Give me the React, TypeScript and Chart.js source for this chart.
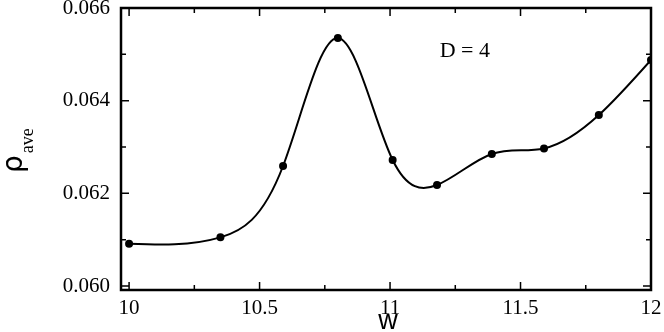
import React, { useEffect, useRef } from 'react';
import { Chart, registerables } from 'chart.js';

Chart.register(...registerables);

const wValues = [10, 10.35, 10.59, 10.8, 11.01, 11.18, 11.39, 11.59, 11.8, 12];
const rhoValues = [0.06091, 0.06105, 0.06259, 0.06535, 0.06272, 0.06218, 0.06285, 0.06297, 0.06369, 0.06488];

const xMajorTicks = [10, 10.5, 11, 11.5, 12];
const xMinorTicks = [10.25, 10.75, 11.25, 11.75];
const xTickLabels = ['10', '10.5', '11', '11.5', '12'];
const yMajorTicks = [0.06, 0.062, 0.064, 0.066];
const yMinorTicks = [0.061, 0.063, 0.065];
const yTickLabels = ['0.060', '0.062', '0.064', '0.066'];

const xRange = [9.969, 12.0];
const yRange = [0.059914, 0.066];

const annotationText = 'D = 4';
const annotationPos = [11.19, 0.06494];
const xTitle = 'w';
const yTitleMain = 'ρ';
const yTitleSub = 'ave';

// Replace the line's bezier control points with those of a natural cubic spline
// through the (scaled) data points, so Chart.js draws a smooth spline curve.
const splinePlugin = {
  id: 'naturalSpline',
  beforeDatasetsDraw(chart: any) {
    chart.data.datasets.forEach((_d: any, di: number) => {
      const meta = chart.getDatasetMeta(di);
      const line = meta.dataset;
      const pts = meta.data;
      if (!line || pts.length < 3) return;
      line.updateControlPoints(chart.chartArea, 'x');
      const n = pts.length;
      const xs = pts.map((p: any) => p.x);
      const ys = pts.map((p: any) => p.y);
      const h: number[] = [];
      for (let i = 0; i < n - 1; i++) h.push(xs[i + 1] - xs[i]);
      const a = new Array(n).fill(0);
      const b = new Array(n).fill(0);
      const c = new Array(n).fill(0);
      const r = new Array(n).fill(0);
      b[0] = 1;
      b[n - 1] = 1;
      for (let i = 1; i < n - 1; i++) {
        a[i] = h[i - 1];
        b[i] = 2 * (h[i - 1] + h[i]);
        c[i] = h[i];
        r[i] = 6 * ((ys[i + 1] - ys[i]) / h[i] - (ys[i] - ys[i - 1]) / h[i - 1]);
      }
      for (let i = 1; i < n; i++) {
        const m = a[i] / b[i - 1];
        b[i] -= m * c[i - 1];
        r[i] -= m * r[i - 1];
      }
      const M = new Array(n).fill(0);
      M[n - 1] = r[n - 1] / b[n - 1];
      for (let i = n - 2; i >= 0; i--) M[i] = (r[i] - c[i] * M[i + 1]) / b[i];
      const slope = (i: number) => {
        if (i < n - 1) {
          return (ys[i + 1] - ys[i]) / h[i] - (h[i] * (2 * M[i] + M[i + 1])) / 6;
        }
        return (ys[i] - ys[i - 1]) / h[i - 1] + (h[i - 1] * (M[i - 1] + 2 * M[i])) / 6;
      };
      for (let i = 0; i < n; i++) {
        const p = pts[i];
        const s = slope(i);
        if (i > 0) {
          p.cp1x = xs[i] - h[i - 1] / 3;
          p.cp1y = ys[i] - (s * h[i - 1]) / 3;
        }
        if (i < n - 1) {
          p.cp2x = xs[i] + h[i] / 3;
          p.cp2y = ys[i] + (s * h[i]) / 3;
        }
      }
    });
  },
};

const framePlugin = {
  id: 'frameTicks',
  afterDatasetsDraw(chart: any) {
    const { ctx, chartArea: a, scales } = chart;
    const x = scales.x;
    const y = scales.y;
    ctx.save();
    ctx.strokeStyle = '#000';
    ctx.lineWidth = 1.5;
    const major = 8;
    const minor = 5;
    const vt = (v: number, len: number) => {
      const px = x.getPixelForValue(v);
      ctx.beginPath();
      ctx.moveTo(px, a.bottom);
      ctx.lineTo(px, a.bottom - len);
      ctx.moveTo(px, a.top);
      ctx.lineTo(px, a.top + len);
      ctx.stroke();
    };
    const ht = (v: number, len: number) => {
      const py = y.getPixelForValue(v);
      ctx.beginPath();
      ctx.moveTo(a.left, py);
      ctx.lineTo(a.left + len, py);
      ctx.moveTo(a.right, py);
      ctx.lineTo(a.right - len, py);
      ctx.stroke();
    };
    xMajorTicks.forEach((v) => vt(v, major));
    xMinorTicks.forEach((v) => vt(v, minor));
    yMajorTicks.forEach((v) => ht(v, major));
    yMinorTicks.forEach((v) => ht(v, minor));
    ctx.lineWidth = 2.5;
    ctx.strokeRect(a.left, a.top, a.right - a.left, a.bottom - a.top);

    ctx.fillStyle = '#000';
    ctx.font = '22px "Liberation Serif"';
    ctx.textAlign = 'left';
    ctx.textBaseline = 'alphabetic';
    ctx.fillText(annotationText, x.getPixelForValue(annotationPos[0]), y.getPixelForValue(annotationPos[1]));

    ctx.font = '27px "Liberation Sans"';
    ctx.textAlign = 'center';
    ctx.fillText(xTitle, (a.left + a.right) / 2 + 2, 329);

    ctx.save();
    ctx.translate(22, 173);
    ctx.rotate(-Math.PI / 2);
    ctx.textAlign = 'left';
    ctx.font = '28px "DejaVu Sans"';
    ctx.fillText(yTitleMain, 0, 0);
    const w = ctx.measureText(yTitleMain).width;
    ctx.font = '18px "Liberation Serif"';
    ctx.fillText(yTitleSub, w + 2, 11);
    ctx.restore();

    ctx.restore();
  },
};

export default function App() {
  const ref = useRef<HTMLCanvasElement>(null);
  useEffect(() => {
    document.body.style.margin = '0';
    const chart = new Chart(ref.current!, {
      type: 'line',
      data: {
        datasets: [
          {
            data: wValues.map((w, i) => ({ x: w, y: rhoValues[i] })),
            borderColor: '#000',
            backgroundColor: '#000',
            borderWidth: 2,
            pointRadius: 4,
            pointBackgroundColor: '#000',
            pointBorderWidth: 0,
            tension: 0.4,
            fill: false,
          },
        ],
      },
      options: {
        animation: false,
        responsive: true,
        maintainAspectRatio: false,
        layout: { padding: { top: 8, right: 13, left: 0, bottom: 0 } },
        plugins: { legend: { display: false }, tooltip: { enabled: false } },
        scales: {
          x: {
            type: 'linear',
            min: xRange[0],
            max: xRange[1],
            grid: { display: false, drawTicks: false },
            border: { display: false },
            afterBuildTicks: (s: any) => {
              s.ticks = xMajorTicks.map((v) => ({ value: v }));
            },
            afterFit: (s: any) => {
              s.height = 42;
              s.paddingLeft = 0;
              s.paddingRight = 0;
            },
            ticks: {
              padding: 6,
              color: '#000',
              maxRotation: 0,
              autoSkip: false,
              font: { family: '"Liberation Serif"', size: 21 },
              callback: (v: any) => {
                const i = xMajorTicks.findIndex((t) => Math.abs(t - v) < 1e-9);
                return i >= 0 ? xTickLabels[i] : '';
              },
            },
          },
          y: {
            type: 'linear',
            min: yRange[0],
            max: yRange[1],
            grid: { display: false, drawTicks: false },
            border: { display: false },
            afterBuildTicks: (s: any) => {
              s.ticks = yMajorTicks.map((v) => ({ value: v }));
            },
            afterFit: (s: any) => {
              s.width = 121;
              s.paddingTop = 0;
              s.paddingBottom = 0;
            },
            ticks: {
              padding: 11,
              color: '#000',
              autoSkip: false,
              font: { family: '"Liberation Serif"', size: 21 },
              callback: (v: any) => {
                const i = yMajorTicks.findIndex((t) => Math.abs(t - v) < 1e-9);
                return i >= 0 ? yTickLabels[i] : '';
              },
            },
          },
        },
      },
      plugins: [splinePlugin, framePlugin],
    });
    return () => chart.destroy();
  }, []);
  return (
    <div style={{ position: 'relative', width: 664, height: 332 }}>
      <canvas ref={ref} />
    </div>
  );
}
